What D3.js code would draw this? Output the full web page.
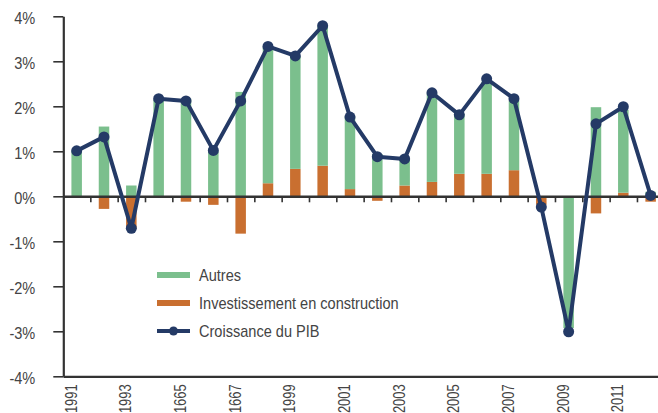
<!DOCTYPE html>
<html>
<head>
<meta charset="utf-8">
<script src="https://cdn.jsdelivr.net/npm/d3@7"></script>
<style>
  body { margin: 0; background: #fff; }
  svg { display: block; overflow: hidden; }
  text { font-family: "Liberation Sans Narrow", "Arial Narrow", "Liberation Sans", Arial, sans-serif; }
</style>
</head>
<body>
<svg class="gdp-chart"></svg>
<script>
let years = ["1991", "1992", "1993", "1994", "1995", "1996", "1997", "1998", "1999", "2000", "2001",
             "2002", "2003", "2004", "2005", "2006", "2007", "2008", "2009", "2010", "2011", "2012"];
let yearLabels = ["1991", "", "1993", "", "1665", "", "1667", "", "1999", "", "2001",
                  "", "2003", "", "2005", "", "2007", "", "2009", "", "2011", ""];
let construction = [0, -0.28, -0.72, 0, -0.12, -0.19, -0.83, 0.29, 0.61, 0.68, 0.16,
                    -0.10, 0.24, 0.32, 0.50, 0.50, 0.58, -0.19, 0, -0.38, 0.08, -0.12];
let autres = [1.01, 1.55, 0.24, 2.15, 2.17, 1.00, 2.32, 3.03, 2.51, 3.10, 1.62,
              0.94, 0.58, 1.97, 1.33, 2.05, 1.54, 0, -2.93, 1.98, 1.84, 0.10];
let pib = [1.01, 1.32, -0.71, 2.17, 2.12, 1.02, 2.12, 3.33, 3.12, 3.79, 1.76,
           0.88, 0.83, 2.30, 1.81, 2.61, 2.17, -0.24, -3.01, 1.61, 1.99, 0.02];
let yTicks = [-4, -3, -2, -1, 0, 1, 2, 3, 4];
let legendLabels = ["Autres", "Investissement en construction", "Croissance du PIB"];

let svgWidth = 658;
let svgHeight = 413;
let green = "#7bbf8d";
let orange = "#c96f30";
let navy = "#243a66";
let axisColor = "#333";
let textColor = "#444";
// no condensed face installed, so squeeze the regular one
let squeeze = 0.91;
let yearSqueeze = 0.81;

let rows = years.map(function(y, i) {
  return { year: y, construction: construction[i], autres: autres[i] };
});

let series = d3.stack()
    .keys(["construction", "autres"])
    .offset(d3.stackOffsetDiverging)(rows);

let xScale = d3.scaleBand()
    .domain(years)
    .range([63, 664.3])
    .paddingInner(0.616)
    .paddingOuter(0.308);

// boundaries between the years, for the little ticks on the zero line
let xEdge = d3.scaleLinear()
    .domain([0, years.length])
    .range([63, 664.3]);

let yScale = d3.scaleLinear()
    .domain([-4, 4])
    .range([376.3, 16.3]);

let svg = d3.select(".gdp-chart")
    .attr("width", svgWidth)
    .attr("height", svgHeight);

function narrow(sel, k, pre) {
  sel.each(function() {
    let t = d3.select(this);
    let x = +t.attr("x") || 0;
    t.attr("x", x / k)
     .attr("transform", (pre || "") + " scale(" + k + ",1)");
  });
}

// bars
let colors = { construction: orange, autres: green };
svg.append("g")
  .selectAll("g")
  .data(series)
    .enter()
    .append("g")
    .attr("fill", function(d) { return colors[d.key]; })
  .selectAll("rect")
  .data(function(d) { return d; })
    .enter()
    .append("rect")
    .attr("x", function(d) { return xScale(d.data.year); })
    .attr("y", function(d) { return yScale(Math.max(d[0], d[1])); })
    .attr("width", xScale.bandwidth())
    .attr("height", function(d) { return Math.abs(yScale(d[0]) - yScale(d[1])); });

// y axis
let yAxis = d3.axisLeft(yScale)
    .tickValues(yTicks)
    .tickSize(10)
    .tickSizeOuter(0)
    .tickPadding(18)
    .tickFormat(function(d) { return d + "%"; });

let yG = svg.append("g")
    .attr("transform", "translate(63.3, 0)")
    .call(yAxis);

// bottom line at -4% with the year labels
let xAxis = d3.axisBottom(xScale)
    .tickSize(0)
    .tickSizeOuter(0)
    .tickFormat(function(d, i) { return yearLabels[i]; });

let xG = svg.append("g")
    .attr("transform", "translate(0," + yScale(-4) + ")")
    .call(xAxis);

xG.selectAll("text")
    .attr("text-anchor", "end")
    .attr("x", -8)
    .attr("y", 0)
    .attr("dy", "0");

// zero line with ticks between the years
let zeroAxis = d3.axisBottom(xEdge)
    .tickValues(d3.range(1, years.length))
    .tickSize(6)
    .tickSizeOuter(0)
    .tickFormat("");

let zG = svg.append("g")
    .attr("transform", "translate(0," + yScale(0) + ")")
    .call(zeroAxis);

[yG, xG, zG].forEach(function(g) {
  g.selectAll("path").attr("stroke", axisColor).attr("stroke-width", 2.2);
  g.selectAll("line").attr("stroke", axisColor).attr("stroke-width", 1.6);
  g.selectAll("text")
    .attr("fill", textColor)
    .style("font-size", "16px");
});
zG.select("path").attr("stroke-width", 2.6);
yG.selectAll("text").attr("dy", "0.45em");
narrow(yG.selectAll("text"), squeeze);
narrow(xG.selectAll("text"), yearSqueeze, "rotate(-90)");

// GDP line
let line = d3.line()
    .x(function(d, i) { return xScale(years[i]) + xScale.bandwidth() / 2; })
    .y(function(d) { return yScale(d); });

svg.append("path")
    .datum(pib)
    .attr("d", line)
    .attr("fill", "none")
    .attr("stroke", navy)
    .attr("stroke-width", 4)
    .attr("stroke-linejoin", "round");

svg.append("g")
  .selectAll("circle")
  .data(pib)
    .enter()
    .append("circle")
    .attr("cx", function(d, i) { return xScale(years[i]) + xScale.bandwidth() / 2; })
    .attr("cy", function(d) { return yScale(d); })
    .attr("r", 5.5)
    .attr("fill", navy);

// legend
let legend = svg.append("g")
  .selectAll("g")
  .data(legendLabels)
    .enter()
    .append("g")
    .attr("transform", function(d, i) { return "translate(157," + (275 + i * 28) + ")"; });

legend.filter(function(d, i) { return i < 2; })
    .append("rect")
    .attr("x", 0)
    .attr("y", -3)
    .attr("width", 33)
    .attr("height", 6)
    .attr("fill", function(d, i) { return i === 0 ? green : orange; });

let lastItem = legend.filter(function(d, i) { return i === 2; });
lastItem.append("line")
    .attr("x1", 0)
    .attr("x2", 33)
    .attr("stroke", navy)
    .attr("stroke-width", 4);
lastItem.append("circle")
    .attr("cx", 16.5)
    .attr("r", 4.5)
    .attr("fill", navy);

let legendText = legend.append("text")
    .attr("x", 42)
    .attr("dy", "0.36em")
    .attr("fill", textColor)
    .style("font-size", "16px")
    .text(function(d) { return d; });
narrow(legendText, squeeze);
</script>
</body>
</html>
